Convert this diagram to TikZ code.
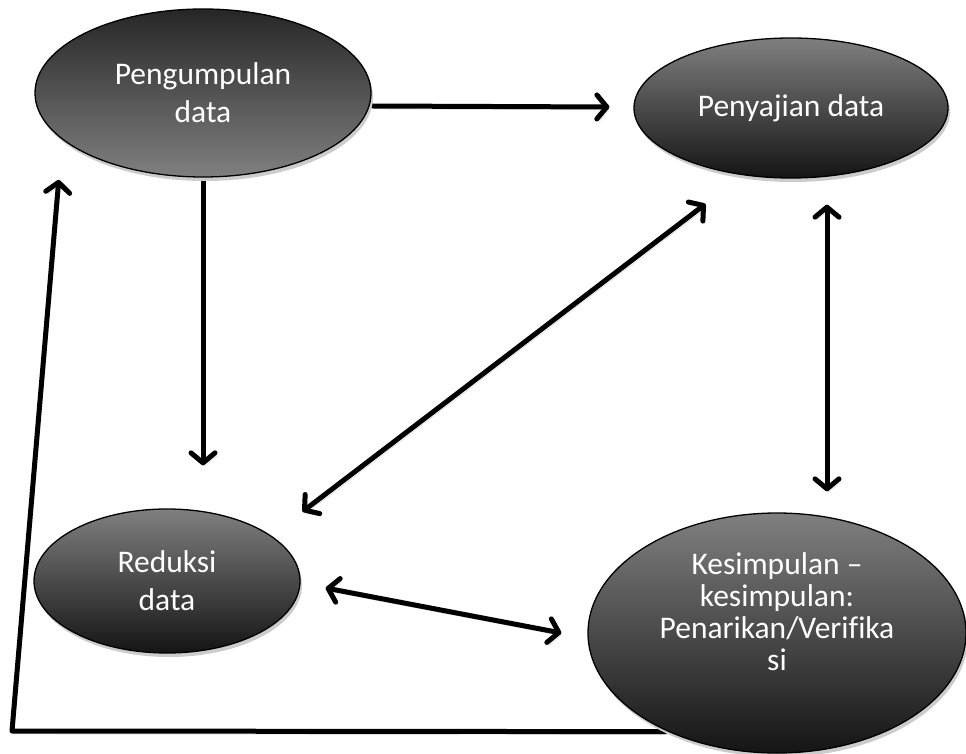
\documentclass[tikz,border=0pt]{standalone}
\usepackage{fontspec}
\setmainfont[Ligatures=NoCommon]{Carlito}
\usetikzlibrary{shapes.geometric,arrows.meta,shadows,calc,backgrounds}
\begin{document}
\begin{tikzpicture}[x=1pt,y=-1pt,
  bubble/.style={ellipse, draw=black, line width=1.3pt, inner sep=0pt, align=center,
    text=white, font=\fontsize{31.5}{38}\selectfont,
    drop shadow={shadow xshift=2pt, shadow yshift=-4pt, fill=black!20, opacity=1}},
  darktop/.style={top color=black!85, bottom color=black!50},
  lighttop/.style={top color=black!50, bottom color=black!92},
  conn/.style={line width=5pt, line cap=round, line join=round,
    preaction={draw=black!18, transform canvas={xshift=2pt,yshift=-3pt}}},
  onetip/.style={-{Straight Barb[length=10pt,width=24pt,round]}},
  twotip/.style={{Straight Barb[length=10pt,width=24pt,round]}-{Straight Barb[length=10pt,width=24pt,round]}},
  label/.style={text=white, align=center, font=\fontsize{31.5}{32}\selectfont, inner sep=0pt}
]
\useasboundingbox (0,0) rectangle (966,754);

\node[bubble, darktop, minimum width=336pt, minimum height=168pt] (peng) at (203,93) {Pengumpulan\\data};
\node[bubble, lighttop, minimum width=314pt, minimum height=140pt] (peny) at (791,108) {Penyajian data};
\node[bubble, lighttop, minimum width=266pt, minimum height=144pt] (red) at (167,581) {Reduksi\\data};
\node[bubble, lighttop, minimum width=378pt, minimum height=240pt] (kes) at (777,633) {};
\node[label] (kestext) at (777,612) {Kesimpulan --\\kesimpulan:\\Penarikan/Verifika\\si};

\coordinate (corner) at (12,731);

\begin{scope}[on background layer]
  \fill[white] (0,0) rectangle (966,754);
  \draw[conn, onetip] ($(peng.east)+(1,13)$) -- ($(peny.west)+(-24,-1)$);
  \draw[conn, onetip] ($(peng.south)+(0,1)$) -- ($(peng.south |- red.north)+(0,-43)$);
  \draw[conn, twotip] ($(red.north east)+(41,-18)$) -- ($(peny.south west)+(26,46)$);
  \draw[conn, twotip] ($(peny.south)+(36,26)$) -- ($(kes.north)+(50,-21)$);
  \draw[conn, twotip] ($(red.east)+(25,7)$) -- ($(kes.west)+(-26,0)$);
  \draw[conn, onetip] ($(kes.south)+(-112,-22)$) -- (corner) -- ($(peng.south west)+(-25,27)$);
\end{scope}
\end{tikzpicture}
\end{document}
